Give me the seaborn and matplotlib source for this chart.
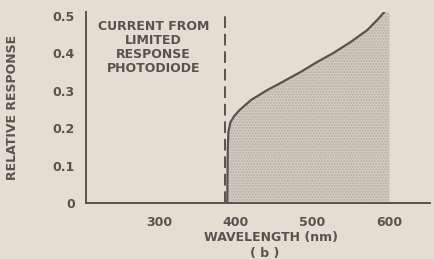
import numpy as np
import pandas as pd
import matplotlib.pyplot as plt
import seaborn as sns

# Data
wavelength = [389, 389.3, 389.7, 390.5, 393, 398, 405, 420, 440, 460, 484, 505, 527, 550, 571, 585, 597, 600]
response = [0.0, 0.08, 0.15, 0.19, 0.215, 0.232, 0.248, 0.275, 0.30, 0.322, 0.349, 0.375, 0.40, 0.43, 0.461, 0.49, 0.518, 0.525]
x_ticks = [300, 400, 500, 600]
y_ticks = [0, 0.1, 0.2, 0.3, 0.4, 0.5]
y_tick_labels = ["0", "0.1", "0.2", "0.3", "0.4", "0.5"]
cutoff = 386

df = pd.DataFrame({"Wavelength": wavelength, "Response": response})

bg = "#e4ded2"
ink = "#58534e"
fs = 9

sns.set_style("white")
plt.rcParams["font.family"] = ["DejaVu Sans"]
plt.rcParams["hatch.linewidth"] = 1.0

f = plt.figure(figsize=(4.34, 2.59), dpi=100, facecolor=bg)
ax = f.add_axes([0.198, 0.216, 0.793, 0.737], facecolor=bg)

# stippled area under the curve
ax.fill_between(df["Wavelength"], 0, df["Response"], facecolor="#d3cdc2",
                edgecolor="#b3ada3", hatch="......", linewidth=0)
sns.lineplot(data=df, x="Wavelength", y="Response", ax=ax, color=ink,
             linewidth=1.6, sort=False)

# cutoff of the limited response photodiode
ax.axvline(cutoff, ymin=0, ymax=0.98, color=ink, linestyle=(0, (6, 3)), linewidth=1.4)
ax.text(293, 0.488, "CURRENT FROM\nLIMITED\nRESPONSE\nPHOTODIODE", ha="center",
        va="top", fontsize=fs, color=ink, linespacing=1.1, fontweight="semibold")

ax.set_xlim(205, 653)
ax.set_ylim(0, 0.509)
ax.set_xticks(x_ticks)
ax.set_yticks(y_ticks)
ax.set_yticklabels(y_tick_labels)
ax.tick_params(axis="both", colors=ink, labelsize=fs, width=1.2)
ax.tick_params(axis="x", direction="out", length=6, pad=3)
ax.tick_params(axis="y", direction="out", length=5, pad=3)
for lab in ax.get_xticklabels() + ax.get_yticklabels():
    lab.set_fontweight("semibold")

for s in ["top", "right"]:
    ax.spines[s].set_visible(False)
for s in ["left", "bottom"]:
    ax.spines[s].set_color(ink)
    ax.spines[s].set_linewidth(1.4)

ax.set_xlabel("WAVELENGTH (nm)", fontsize=fs, color=ink, fontweight="semibold")
ax.xaxis.set_label_coords(0.538, -0.145)
ax.text(0.52, -0.262, "( b )", transform=ax.transAxes, ha="center", va="center",
        fontsize=fs, color=ink, fontweight="semibold")
ax.set_ylabel("RELATIVE RESPONSE", fontsize=fs, color=ink, labelpad=24,
              fontweight="semibold")

f.savefig("out.png", facecolor=bg)
